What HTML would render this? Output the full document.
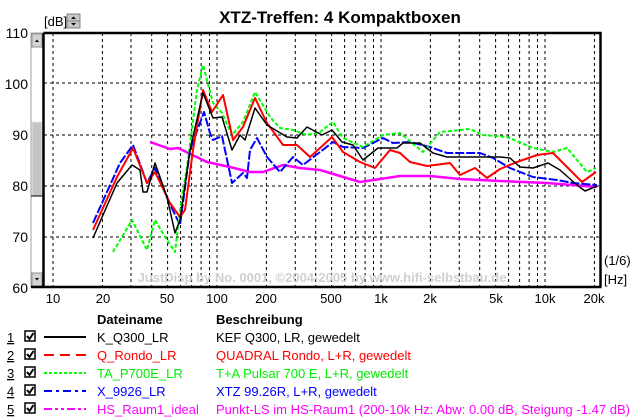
<!DOCTYPE html>
<html><head><meta charset="utf-8"><style>
html,body{margin:0;padding:0;background:#fff;}
svg{display:block;font-family:"Liberation Sans",sans-serif;}
</style></head><body>
<svg width="632" height="418" viewBox="0 0 632 418" xmlns="http://www.w3.org/2000/svg">
<rect width="632" height="418" fill="#fff"/>
<text x="340" y="23" font-size="17" font-weight="bold" text-anchor="middle">XTZ-Treffen: 4 Kompaktboxen</text>
<text x="44" y="26" font-size="13">[dB]</text>
<rect x="67" y="14" width="13" height="14" fill="#c8c8c8" stroke="#808080" stroke-width="1"/>
<line x1="67" y1="21" x2="80" y2="21" stroke="#808080"/>
<path d="M71 19 L73.5 16.5 L76 19Z M71 23 L73.5 25.5 L76 23Z" fill="#000"/>
<!-- scrollbar -->
<rect x="31" y="33" width="12" height="254" fill="#fff" stroke="#a0a0a0"/>
<rect x="32" y="122" width="10" height="74" fill="#c4c4c4" stroke="#e8e8e8"/>
<line x1="31" y1="196" x2="43" y2="196" stroke="#000"/>
<rect x="32" y="34" width="10" height="13" fill="#d4d4d4" stroke="#909090"/>
<rect x="32" y="273" width="10" height="13" fill="#d4d4d4" stroke="#909090"/>
<path d="M35 42 L37 39.5 L39 42Z M35 278 L37 280.5 L39 278Z" fill="#000"/>
<!-- y labels -->
<g font-size="14" text-anchor="end">
<text x="28" y="38">110</text><text x="28" y="89">100</text><text x="28" y="140">90</text>
<text x="28" y="191">80</text><text x="28" y="242">70</text><text x="28" y="293">60</text>
</g>
<!-- grid -->
<g stroke="#000" stroke-width="1" stroke-dasharray="3,3">
<line x1="44" y1="83" x2="600" y2="83"/><line x1="44" y1="135" x2="600" y2="135"/>
<line x1="44" y1="186" x2="600" y2="186"/><line x1="44" y1="237" x2="600" y2="237"/>
<line x1="53" y1="33" x2="53" y2="287"/>
<line x1="102.4" y1="33" x2="102.4" y2="287"/><line x1="131" y1="33" x2="131" y2="287"/>
<line x1="151.7" y1="33" x2="151.7" y2="287"/><line x1="167.6" y1="33" x2="167.6" y2="287"/>
<line x1="180.6" y1="33" x2="180.6" y2="287"/><line x1="191.6" y1="33" x2="191.6" y2="287"/>
<line x1="201.1" y1="33" x2="201.1" y2="287"/><line x1="209.5" y1="33" x2="209.5" y2="287"/>
<line x1="217" y1="33" x2="217" y2="287"/>
<line x1="266.4" y1="33" x2="266.4" y2="287"/><line x1="295.3" y1="33" x2="295.3" y2="287"/>
<line x1="315.7" y1="33" x2="315.7" y2="287"/><line x1="331.6" y1="33" x2="331.6" y2="287"/>
<line x1="344.6" y1="33" x2="344.6" y2="287"/><line x1="355.6" y1="33" x2="355.6" y2="287"/>
<line x1="365.1" y1="33" x2="365.1" y2="287"/><line x1="373.5" y1="33" x2="373.5" y2="287"/>
<line x1="381" y1="33" x2="381" y2="287"/>
<line x1="430.4" y1="33" x2="430.4" y2="287"/><line x1="459.3" y1="33" x2="459.3" y2="287"/>
<line x1="479.7" y1="33" x2="479.7" y2="287"/><line x1="495.6" y1="33" x2="495.6" y2="287"/>
<line x1="508.6" y1="33" x2="508.6" y2="287"/><line x1="519.6" y1="33" x2="519.6" y2="287"/>
<line x1="529.1" y1="33" x2="529.1" y2="287"/><line x1="537.5" y1="33" x2="537.5" y2="287"/>
<line x1="545" y1="33" x2="545" y2="287"/><line x1="594.4" y1="33" x2="594.4" y2="287"/>
</g>
<text x="322" y="282" font-size="13" font-weight="bold" fill="#d0d0d0" text-anchor="middle">JustDisp by No. 0001, ©2004-2005 by www.hifi-selbstbau.de</text>
<!-- curves -->
<g fill="none" stroke-linejoin="round">
<polyline stroke="#ff00ff" stroke-width="2.5" points="150,142 170,149 178,148 207,162 230,167 250,172 263,172 283,165 300,168 320,170 360,182 400,176 430,176 460,179 500,181 547,183 597,187"/>
<polyline stroke="#0000ff" stroke-width="2" stroke-dasharray="9,2" points="93,223 120,163 133,145 147,183 155,168 168,200 180,225 190,150 204,112 210,133 213,140 222,136 232,183 243,173 247,178 250,150 257,138 267,157 280,172 293,157 303,165 320,152 333,142 343,147 363,148 383,138 393,143 410,142 430,147 447,153 480,153 493,158 510,168 533,177 557,180 573,183 597,185"/>
<polyline stroke="#00ff00" stroke-width="2" stroke-dasharray="4,2" points="113,252 132,220 147,250 155,220 165,237 175,252 180,210 188,160 197,90 203,65 213,103 222,113 232,135 243,122 255,92 270,117 280,128 293,130 307,135 320,132 333,122 343,138 363,147 383,135 400,133 423,152 440,132 470,129 483,135 507,137 533,148 553,152 567,148 587,172 596,168"/>
<polyline stroke="#ff0000" stroke-width="2" points="93,230 117,177 133,148 147,183 155,172 170,203 180,217 185,210 193,150 203,90 212,112 223,95 233,140 243,127 255,98 267,123 283,145 297,145 310,157 320,148 332,137 343,152 360,162 375,168 390,150 400,153 410,162 427,166 450,163 460,175 475,168 487,178 500,169 517,162 537,155 553,153 567,167 582,182 596,172"/>
<polyline stroke="#000" stroke-width="1.5" points="93,238 117,183 132,165 140,170 143,192 147,192 155,163 167,197 175,233 180,220 190,150 203,93 213,118 222,117 232,150 240,135 245,140 255,108 267,125 287,137 297,138 307,127 322,135 332,130 342,142 353,145 363,160 378,148 397,148 403,143 420,143 433,153 447,157 480,157 500,157 510,158 520,167 533,168 548,163 560,170 577,185 585,191 597,186"/>
</g>
<!-- border -->
<path d="M43.5 33 L600.5 33 L600.5 287 M31 287 L601.5 287 M43.5 33 L43.5 287" stroke="#000" stroke-width="2.5" fill="none"/>
<!-- x labels -->
<g font-size="13" text-anchor="middle">
<text x="53" y="303">10</text><text x="103" y="303">20</text><text x="167" y="303">50</text>
<text x="217" y="303">100</text><text x="266" y="303">200</text><text x="331" y="303">500</text>
<text x="381" y="303">1k</text><text x="430" y="303">2k</text><text x="496" y="303">5k</text>
<text x="545" y="303">10k</text><text x="594" y="303">20k</text>
</g>
<text x="604" y="265" font-size="13">(1/6)</text>
<text x="604" y="284" font-size="13">[Hz]</text>
<!-- legend -->
<g font-size="13">
<text x="97" y="324" font-weight="bold">Dateiname</text>
<text x="216" y="324" font-weight="bold">Beschreibung</text>
<g text-decoration="underline"><text x="7" y="342">1</text><text x="7" y="360">2</text><text x="7" y="378">3</text><text x="7" y="396">4</text><text x="7" y="414">5</text></g>
<g fill="#fff" stroke="#000" stroke-width="1.5">
<rect x="25" y="331" width="10" height="10"/><rect x="25" y="349" width="10" height="10"/><rect x="25" y="367" width="10" height="10"/><rect x="25" y="385" width="10" height="10"/><rect x="25" y="403" width="10" height="10"/>
</g>
<g fill="none" stroke="#000" stroke-width="2"><path d="M27 336 L29.5 339 L33.5 333"/><path d="M27 354 L29.5 357 L33.5 351"/><path d="M27 372 L29.5 375 L33.5 369"/><path d="M27 390 L29.5 393 L33.5 387"/><path d="M27 408 L29.5 411 L33.5 405"/></g>
<line x1="44" y1="337" x2="86" y2="337" stroke="#000" stroke-width="2"/>
<line x1="44" y1="355" x2="86" y2="355" stroke="#f00" stroke-width="2" stroke-dasharray="10,6"/>
<line x1="44" y1="373" x2="86" y2="373" stroke="#0f0" stroke-width="2" stroke-dasharray="3,2"/>
<line x1="44" y1="391" x2="86" y2="391" stroke="#00f" stroke-width="2" stroke-dasharray="8,4,3,4"/>
<line x1="44" y1="409" x2="86" y2="409" stroke="#f0f" stroke-width="2" stroke-dasharray="8,3,3,3,3,3"/>
<text x="97" y="342">K_Q300_LR</text><text x="216" y="342">KEF Q300, LR, gewedelt</text>
<text x="97" y="360" fill="#f00">Q_Rondo_LR</text><text x="216" y="360" fill="#f00">QUADRAL Rondo, L+R, gewedelt</text>
<text x="97" y="378" fill="#0e0">TA_P700E_LR</text><text x="216" y="378" fill="#0e0">T+A Pulsar 700 E, L+R, gewedelt</text>
<text x="97" y="396" fill="#00f">X_9926_LR</text><text x="216" y="396" fill="#00f">XTZ 99.26R, L+R, gewedelt</text>
<text x="97" y="414" fill="#f0f">HS_Raum1_ideal</text><text x="216" y="414" fill="#f0f" textLength="414">Punkt-LS im HS-Raum1 (200-10k Hz: Abw: 0.00 dB, Steigung -1.47 dB)</text>
</g>
</svg>
</body></html>
